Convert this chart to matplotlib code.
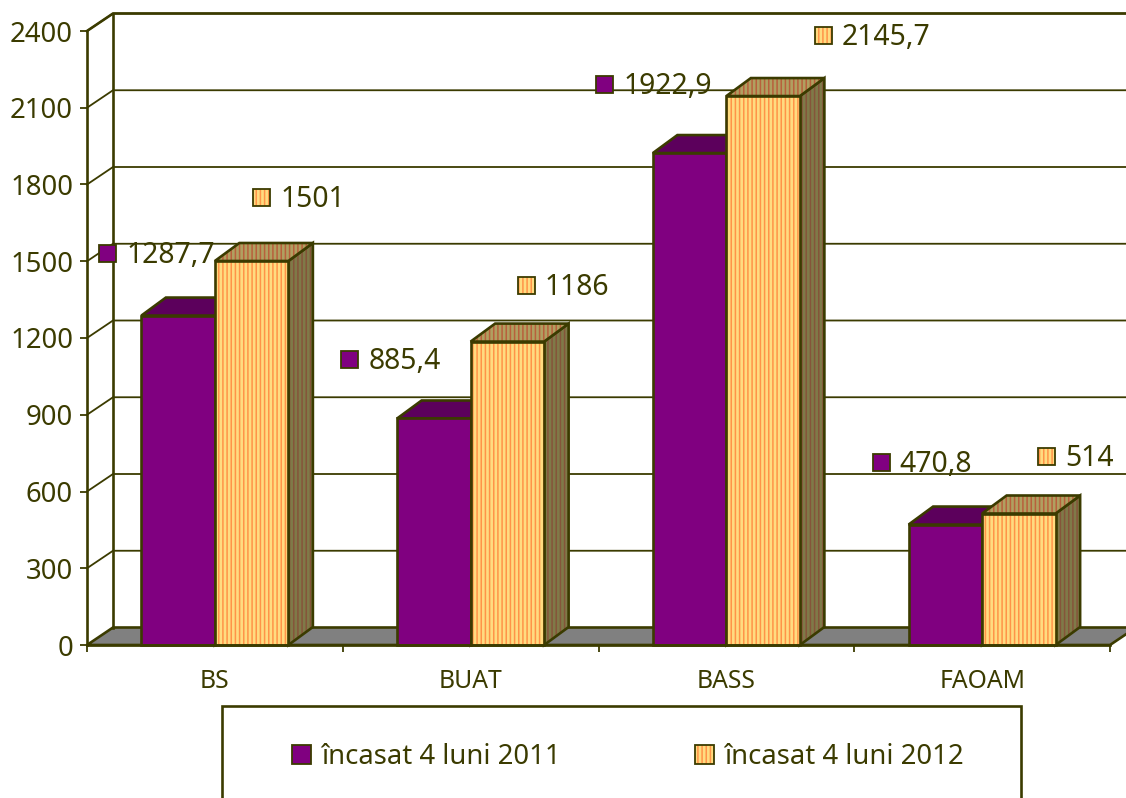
import matplotlib
matplotlib.use("Agg")
import matplotlib.pyplot as plt
from matplotlib.patches import Polygon, Rectangle, Patch
from matplotlib.legend_handler import HandlerTuple

categories = ["BS", "BUAT", "BASS", "FAOAM"]
series_names = ["încasat 4 luni 2011", "încasat 4 luni 2012"]
values_2011 = [1287.7, 885.4, 1922.9, 470.8]
values_2012 = [1501, 1186, 2145.7, 514]
labels_2011 = ["1287,7", "885,4", "1922,9", "470,8"]
labels_2012 = ["1501", "1186", "2145,7", "514"]
y_ticks = [0, 300, 600, 900, 1200, 1500, 1800, 2100, 2400]

# label anchor positions (category units, value units)
label_pos_2011 = [(0.082, 1530), (1.027, 1116), (2.024, 2190), (3.106, 715)]
label_pos_2012 = [(0.684, 1750), (1.717, 1405), (2.878, 2384), (3.752, 737)]

W, H = 1126, 798
INK = "#3b3b00"
PURPLE = "#800080"
PURPLE_TOP = "#5c005c"
ORANGE = "#ffdc80"
STRIPE = "#ff9448"
FONT = ["Noto Sans", "DejaVu Sans"]
plt.rcParams["font.family"] = FONT
plt.rcParams["hatch.linewidth"] = 1.1
plt.rcParams["hatch.color"] = STRIPE

fig = plt.figure(figsize=(W / 100, H / 100), dpi=100, facecolor="white")
L, R, B, T = 87, 1110, 645, 31
ax = fig.add_axes([L / W, 1 - B / H, (R - L) / W, (B - T) / H])
ax.set_xlim(0, 4)
ax.set_ylim(0, 2400)
ax.patch.set_visible(False)

px_x = 4 / (R - L)      # category units per pixel
px_y = 2400 / (B - T)   # value units per pixel
wall_dx, wall_dy = 26 * px_x, 17.5 * px_y
bar_dx, bar_dy = 24.5 * px_x, 18 * px_y
bar_w = 73.5 * px_x
LW = 1.9
HATCH = "||||"


def poly(points, face, z, hatch=None, hatch_color=None, lw=LW):
    ax.add_patch(Polygon(points, closed=True, facecolor=face, edgecolor="none",
                         clip_on=False, zorder=z))
    if hatch:
        ax.add_patch(Polygon(points, closed=True, facecolor="none", edgecolor=hatch_color,
                             hatch=hatch, linewidth=0, clip_on=False, zorder=z))
    ax.add_patch(Polygon(points, closed=True, facecolor="none", edgecolor=INK,
                         linewidth=lw, clip_on=False, zorder=z, joinstyle="miter"))


# floor
poly([(0, 0), (wall_dx, wall_dy), (4 + wall_dx, wall_dy), (4, 0)], "#808080", 1)

# walls and gridlines
grid_end = 4 + 40 * px_x
ax.plot([wall_dx, wall_dx], [wall_dy, 2400 + wall_dy], color=INK, lw=LW, clip_on=False, zorder=2)
for t in y_ticks[1:]:
    ax.plot([0, wall_dx, grid_end], [t, t + wall_dy, t + wall_dy], color=INK, lw=1.3,
            clip_on=False, zorder=1.5)
ax.plot([0, wall_dx, grid_end], [2400, 2400 + wall_dy, 2400 + wall_dy], color=INK, lw=LW,
        clip_on=False, zorder=2)


def bar3d(x0, h, front, top, side, z, hatch=None, top_stripe=None, side_stripe=None):
    x1 = x0 + bar_w
    poly([(x1, 0), (x1 + bar_dx, bar_dy), (x1 + bar_dx, h + bar_dy), (x1, h)], side, z,
         hatch, side_stripe)
    poly([(x0, h), (x0 + bar_dx, h + bar_dy), (x1 + bar_dx, h + bar_dy), (x1, h)], top, z,
         hatch, top_stripe)
    poly([(x0, 0), (x0, h), (x1, h), (x1, 0)], front, z + 0.1, hatch, STRIPE if hatch else None)


for i, (a, b) in enumerate(zip(values_2011, values_2012)):
    c = i + 0.5
    bar3d(c - bar_w, a, PURPLE, PURPLE_TOP, PURPLE_TOP, 3 + i)
    bar3d(c, b, ORANGE, "#b0a060", "#7f7a48", 3.5 + i, HATCH, "#b8603c", "#85553a")

ax.spines[["top", "right"]].set_visible(False)
for s in ["left", "bottom"]:
    ax.spines[s].set_color(INK)
    ax.spines[s].set_linewidth(LW)
    ax.spines[s].set_zorder(20)
ax.set_yticks(y_ticks)
ax.tick_params(axis="y", length=5, width=1.3, color=INK, labelcolor=INK, labelsize=19.8, pad=5)
for lab in ax.get_yticklabels():
    lab.set_verticalalignment("center_baseline")
ax.set_xticks(range(5))
ax.set_xticklabels([])
ax.set_xticks([i + 0.5 for i in range(4)], labels=categories, minor=True)
ax.tick_params(axis="x", which="major", length=5, width=1.3, color=INK)
ax.tick_params(axis="x", which="minor", length=0, labelcolor=INK, labelsize=17.8, pad=17)


def data_label(pos, text, face, hatch=None):
    x, y = pos
    w, h = 17 * px_x, 17 * px_y
    ax.add_patch(Rectangle((x - w / 2, y - h / 2), w, h, facecolor=face, edgecolor="none",
                           clip_on=False, zorder=30))
    if hatch:
        ax.add_patch(Rectangle((x - w / 2, y - h / 2), w, h, facecolor="none", edgecolor=STRIPE,
                               hatch=hatch, linewidth=0, clip_on=False, zorder=30.1))
    ax.add_patch(Rectangle((x - w / 2, y - h / 2), w, h, facecolor="none", edgecolor=INK,
                           linewidth=1.3, clip_on=False, zorder=30.2))
    ax.text(x + 18.5 * px_x, y - 2 * px_y, text, color=INK, fontsize=20.4, va="center", ha="left",
            zorder=31, clip_on=False)


for pos, text in zip(label_pos_2011, labels_2011):
    data_label(pos, text, PURPLE)
for pos, text in zip(label_pos_2012, labels_2012):
    data_label(pos, text, ORANGE, HATCH)

# legend frame runs past the bottom of the figure
fig.add_artist(Rectangle((222 / W, -0.05), (1021 - 222) / W, 0.05 + 1 - 706 / H, transform=fig.transFigure,
                         facecolor="white", edgecolor=INK, linewidth=LW, clip_on=False))
handle_a = Patch(facecolor=PURPLE, edgecolor=INK, linewidth=1.3)
handle_b = (Patch(facecolor=ORANGE, edgecolor=STRIPE, linewidth=0, hatch=HATCH),
            Patch(facecolor="none", edgecolor=INK, linewidth=1.3))
leg = fig.legend([handle_a, handle_b], series_names, loc="center left",
                 handler_map={tuple: HandlerTuple(ndivide=1, pad=0)},
                 bbox_to_anchor=(292 / W, 1 - 757 / H), ncol=2,
                 frameon=False, fontsize=19.8, labelcolor=INK, handlelength=0.69, handleheight=0.69,
                 handletextpad=0.35, columnspacing=4.9, borderpad=0, borderaxespad=0)

fig.savefig("out.png", dpi=100, facecolor="white")
